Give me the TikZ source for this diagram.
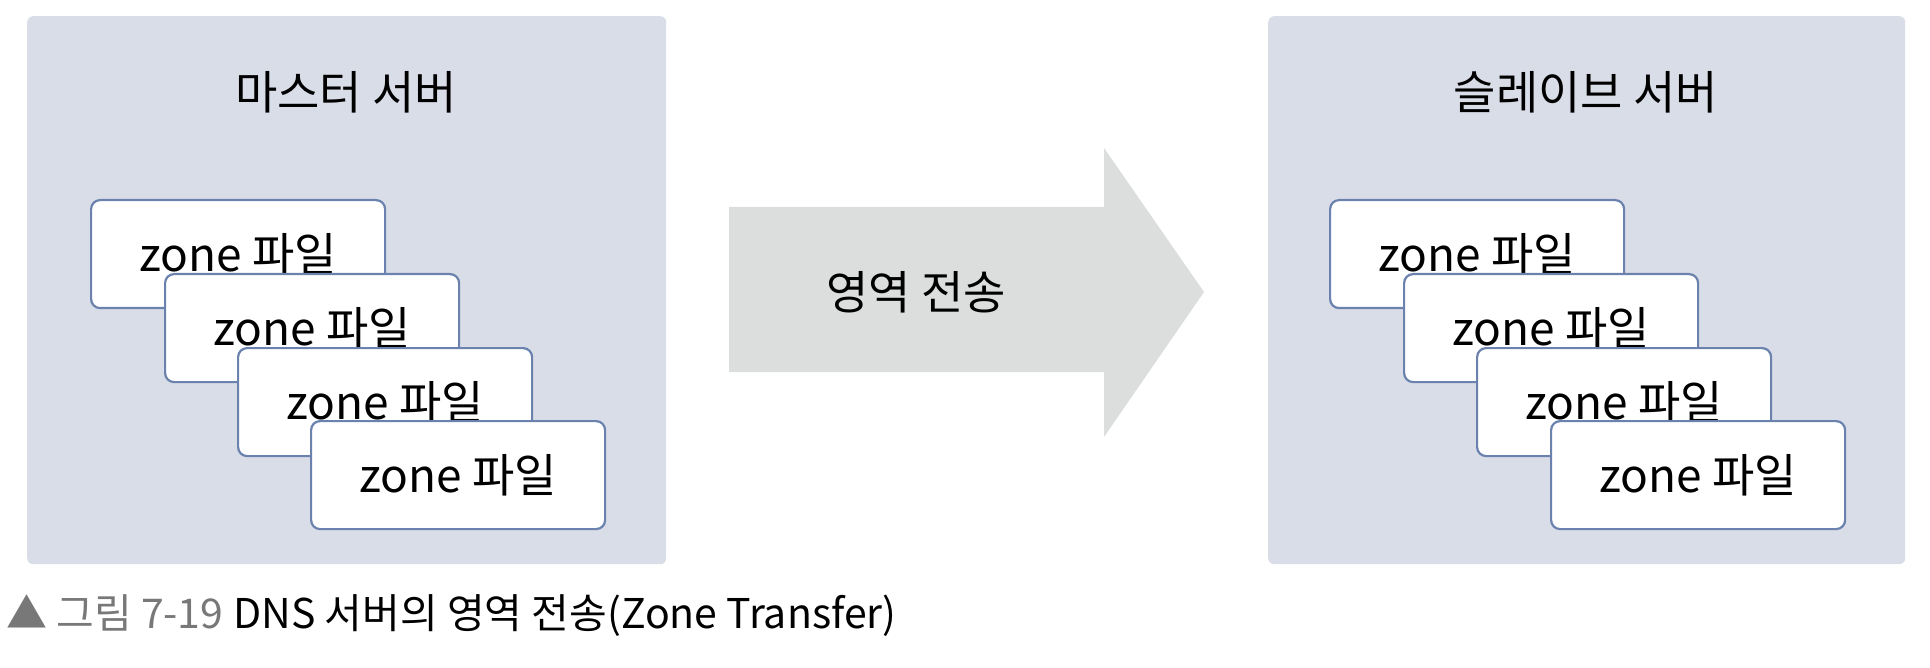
\documentclass[tikz,border=0pt]{standalone}
\usepackage{fontspec}
\setmainfont{Noto Sans CJK KR}
\begin{document}
\begin{tikzpicture}[x=1pt,y=-1pt,
  panel/.style={fill=panelc,rounded corners=6pt,minimum width=639pt,minimum height=548pt,anchor=north west,inner sep=0pt},
  title/.style={font=\fontsize{46}{50}\selectfont,text=black},
  filebox/.style={draw=boxc,line width=2.2pt,fill=white,rounded corners=9pt,minimum width=294pt,minimum height=108pt,anchor=north west,inner sep=0pt,font=\fontsize{46}{50}\selectfont},
]
\definecolor{panelc}{HTML}{D9DDE7}
\definecolor{boxc}{HTML}{6A82AD}
\definecolor{arrowc}{HTML}{DCDDDD}
\definecolor{capgray}{HTML}{787878}
\useasboundingbox (0,0) rectangle (1930,668);
% panels
\node[panel] (master) at (27,16) {};
\node[panel, minimum width=637pt] (slave) at (1268,16) {};
\node[title] (mt) at (346,92) {마스터 서버};
\node[title] (st) at (1586,92) {슬레이브 서버};
% master files
\node[filebox] (m1) at (90,199) {zone 파일};
\node[filebox] (m2) at (164,273) {zone 파일};
\node[filebox] (m3) at (237,347) {zone 파일};
\node[filebox] (m4) at (310,420) {zone 파일};
% slave files
\node[filebox] (s1) at (1329,199) {zone 파일};
\node[filebox] (s2) at (1403,273) {zone 파일};
\node[filebox] (s3) at (1476,347) {zone 파일};
\node[filebox] (s4) at (1550,420) {zone 파일};
% arrow
\fill[arrowc] (729,207) -- (1104,207) -- (1104,148) -- (1204,292) -- (1104,437) -- (1104,372) -- (729,372) -- cycle;
\node[title] (tr) at (916,292) {영역 전송};
% caption
\node[anchor=west,inner sep=0pt,font=\fontsize{41}{45}\selectfont] (cap) at (6,616) {\textcolor{capgray}{▲ 그림 7-19}\hspace{10pt}DNS 서버의 영역 전송(Zone Transfer)};
\end{tikzpicture}
\end{document}
